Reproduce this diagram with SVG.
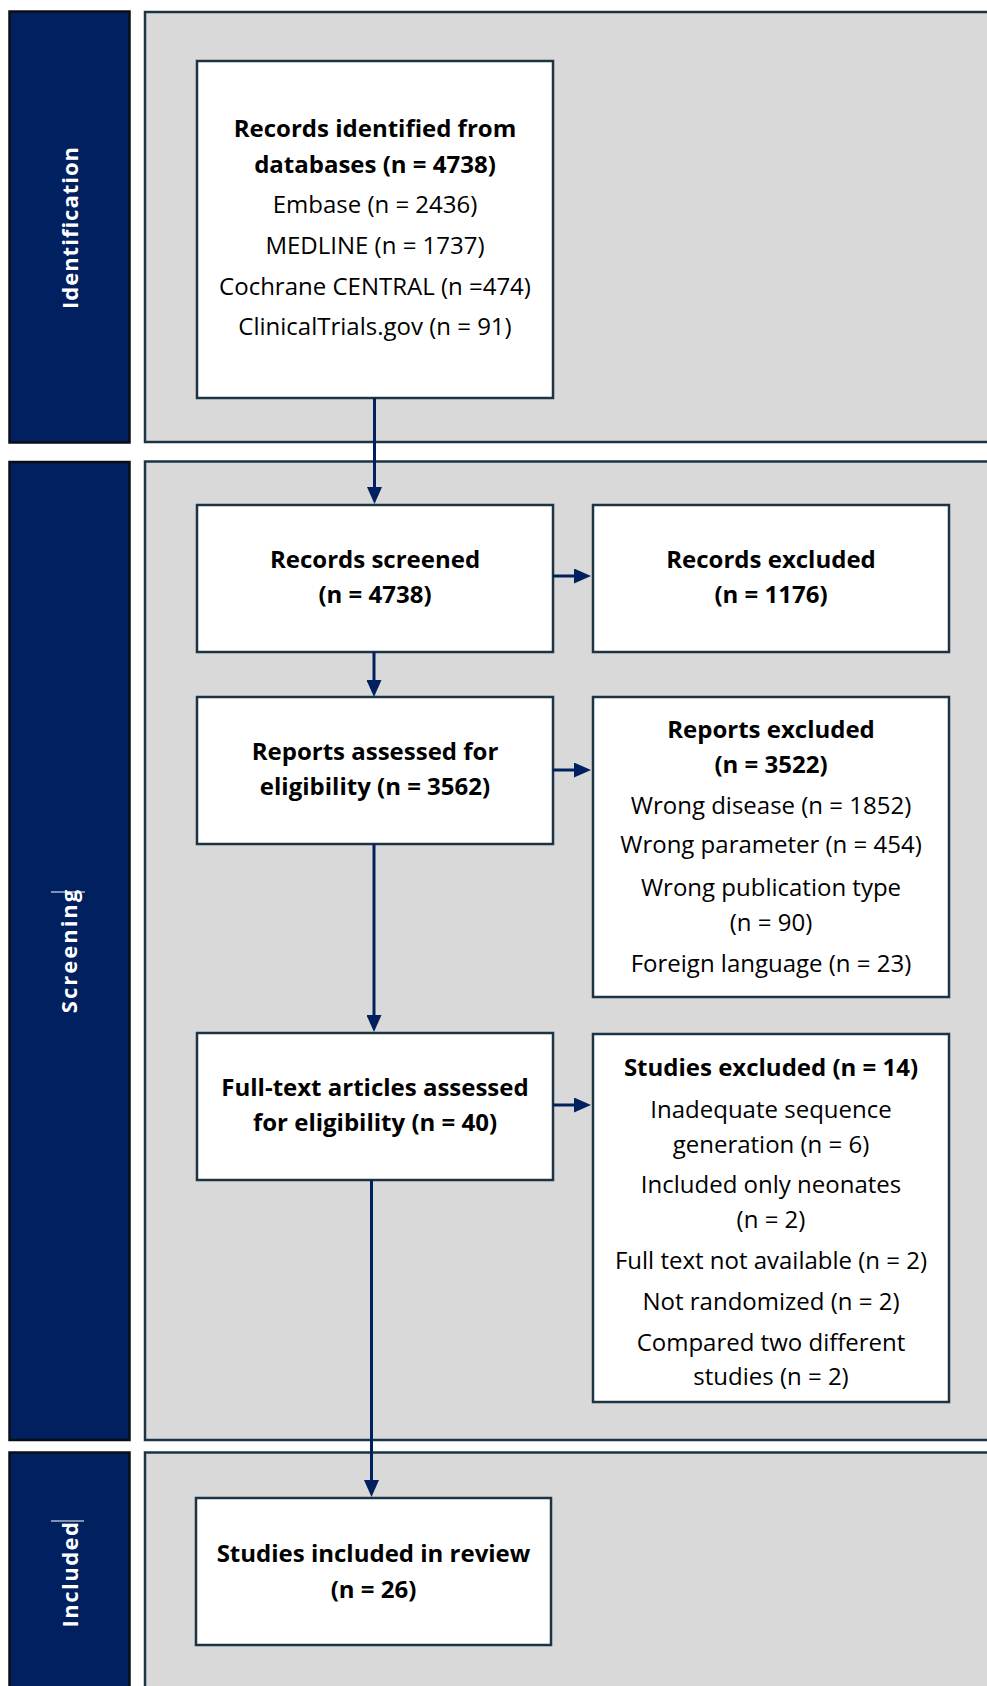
<svg xmlns="http://www.w3.org/2000/svg" width="987" height="1686" viewBox="0 0 987 1686">
<defs>
<style>
.side{fill:#002060;stroke:#0a0f14;stroke-width:2.5}
.panel{fill:#d9d9d9;stroke:#1c3444;stroke-width:2.5}
.box{fill:#ffffff;stroke:#1c3444;stroke-width:2.5}
.lab{font-family:"Open Sans","Noto Sans","DejaVu Sans",sans-serif;font-size:22px;font-weight:bold;fill:#ffffff;text-anchor:middle}
.t{font-family:"Open Sans","Noto Sans","DejaVu Sans",sans-serif;font-size:24px;fill:#000000;text-anchor:middle}
.b{font-weight:bold}
.caret{stroke:#ffffff;stroke-width:1.2}
.conn{stroke:#002060;stroke-width:3;fill:none}
.cv{marker-end:url(#ah)}
</style>
<marker id="ah" markerUnits="userSpaceOnUse" markerWidth="17" markerHeight="15" refX="0" refY="7.5" orient="auto" viewBox="0 0 17 15">
<path d="M0,0 L17,7.5 L0,15 Z" fill="#002060"/>
</marker>
</defs>
<rect width="987" height="1686" fill="#ffffff"/>

<g id="band-identification">
<rect class="side" x="9.5" y="11.5" width="120" height="431"/>
<rect class="panel" x="145" y="12" width="900" height="430"/>
<text class="lab" style="letter-spacing:1px" transform="translate(77.5,227.5) rotate(-90)">Identification</text>
</g>

<g id="band-screening">
<rect class="side" x="9.5" y="462" width="120" height="978"/>
<rect class="panel" x="145" y="461.5" width="900" height="978.5"/>
<text class="lab" style="letter-spacing:2px" transform="translate(77,950.5) rotate(-90)">Screening</text>
<line class="caret" x1="51" y1="892" x2="85" y2="892"/>
</g>

<g id="band-included">
<rect class="side" x="9.5" y="1452.5" width="120" height="260"/>
<rect class="panel" x="145" y="1452.5" width="900" height="260"/>
<text class="lab" style="letter-spacing:1.5px" transform="translate(77.5,1574) rotate(-90)">Included</text>
<line class="caret" x1="51" y1="1521" x2="84" y2="1521"/>
</g>

<g id="node-identified">
<rect class="box" x="197" y="61" width="356" height="337"/>
<text class="t b" x="375" y="137">Records identified from</text>
<text class="t b" x="375" y="173">databases (n = 4738)</text>
<text class="t" x="375" y="213">Embase (n = 2436)</text>
<text class="t" x="375" y="254">MEDLINE (n = 1737)</text>
<text class="t" x="375" y="295">Cochrane CENTRAL (n =474)</text>
<text class="t" x="375" y="335">ClinicalTrials.gov (n = 91)</text>
</g>

<g id="node-screened">
<rect class="box" x="197" y="505" width="356" height="147"/>
<text class="t b" x="375" y="568">Records screened</text>
<text class="t b" x="375" y="603">(n = 4738)</text>
</g>

<g id="node-records-excluded">
<rect class="box" x="593" y="505" width="356" height="147"/>
<text class="t b" x="771" y="568">Records excluded</text>
<text class="t b" x="771" y="603">(n = 1176)</text>
</g>

<g id="node-reports-assessed">
<rect class="box" x="197" y="697" width="356" height="147"/>
<text class="t b" x="375" y="760">Reports assessed for</text>
<text class="t b" x="375" y="795">eligibility (n = 3562)</text>
</g>

<g id="node-reports-excluded">
<rect class="box" x="593" y="697" width="356" height="300"/>
<text class="t b" x="771" y="738">Reports excluded</text>
<text class="t b" x="771" y="773">(n = 3522)</text>
<text class="t" x="771" y="814">Wrong disease (n = 1852)</text>
<text class="t" x="771" y="853">Wrong parameter (n = 454)</text>
<text class="t" x="771" y="896">Wrong publication type</text>
<text class="t" x="771" y="931">(n = 90)</text>
<text class="t" x="771" y="972">Foreign language (n = 23)</text>
</g>

<g id="node-fulltext">
<rect class="box" x="197" y="1033" width="356" height="147"/>
<text class="t b" x="375" y="1096">Full-text articles assessed</text>
<text class="t b" x="375" y="1131">for eligibility (n = 40)</text>
</g>

<g id="node-studies-excluded">
<rect class="box" x="593" y="1034" width="356" height="368"/>
<text class="t b" x="771" y="1076">Studies excluded (n = 14)</text>
<text class="t" x="771" y="1118">Inadequate sequence</text>
<text class="t" x="771" y="1153">generation (n = 6)</text>
<text class="t" x="771" y="1193">Included only neonates</text>
<text class="t" x="771" y="1228">(n = 2)</text>
<text class="t" x="771" y="1269">Full text not available (n = 2)</text>
<text class="t" x="771" y="1310">Not randomized (n = 2)</text>
<text class="t" x="771" y="1351">Compared two different</text>
<text class="t" x="771" y="1385">studies (n = 2)</text>
</g>

<g id="node-included">
<rect class="box" x="196" y="1498" width="355" height="147"/>
<text class="t b" x="373.5" y="1562">Studies included in review</text>
<text class="t b" x="373.5" y="1598">(n = 26)</text>
</g>

<g id="connectors">
<line class="conn cv" x1="374.5" y1="398" x2="374.5" y2="487"/>
<line class="conn cv" x1="374" y1="652" x2="374" y2="680"/>
<line class="conn cv" x1="374" y1="844" x2="374" y2="1015"/>
<line class="conn cv" x1="371.5" y1="1180" x2="371.5" y2="1480"/>
<line class="conn cv" x1="553" y1="576" x2="574" y2="576"/>
<line class="conn cv" x1="553" y1="770" x2="574" y2="770"/>
<line class="conn cv" x1="553" y1="1105" x2="574" y2="1105"/>
</g>
</svg>
